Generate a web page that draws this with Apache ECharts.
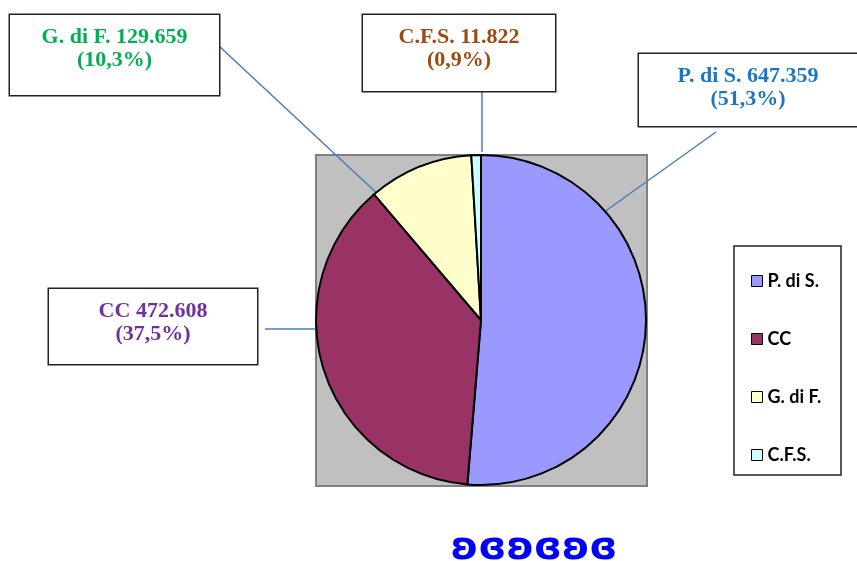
<!DOCTYPE html>
<html><head><meta charset="utf-8">
<script src="https://cdn.jsdelivr.net/npm/echarts@6/dist/echarts.min.js"></script>
<style>html,body{margin:0;padding:0;background:#fff}#c{width:857px;height:561px}</style>
</head><body><div id="c"></div>
<script>
const categories = ['P. di S.', 'CC', 'G. di F.', 'C.F.S.'];
const values = [647359, 472608, 129659, 11822];
const sliceColors = ['#9999FF', '#993366', '#FFFFCC', '#CCFFFF'];
const labelColors = ['#1A78C2', '#7030A0', '#00B050', '#9C4A0E'];
const ornament = 'ʚɞʚɞʚɞ';

// label box layout [left, top, right, bottom] and leader line points
const boxes = [[639,54,857,126],[49,289,257,364],[10,15,219,95],[363,15,555,91]];
const anchors = [[600,215],[321,329],[382,198],[482,152]];
const exits = [[716,132],[265,329],[219,46],[482,91]];

const total = values.reduce((a, b) => a + b, 0);
function itNum(v) { return String(v).replace(/\B(?=(\d{3})+(?!\d))/g, '.'); }
function itPct(v) { return (v / total * 100).toFixed(1).replace('.', ','); }

const chart = echarts.init(document.getElementById('c'), null, {renderer: 'canvas'});
chart.setOption({
  animation: false,
  backgroundColor: '#fff',
  graphic: [
    {type: 'rect', z: -10, shape: {x: 316, y: 155, width: 331, height: 331},
     style: {fill: '#C0C0C0', stroke: '#808080', lineWidth: 2}},
    {type: 'rect', z: -10, shape: {x: 734, y: 246, width: 107, height: 229},
     style: {fill: '#fff', stroke: '#222', lineWidth: 1.5}},
    {type: 'text', x: 534, y: 549, style: {text: ornament, fill: '#0000FF',
      font: 'bold 38px "DejaVu Sans"', textAlign: 'center', textVerticalAlign: 'middle'}}
  ],
  legend: {
    orient: 'vertical', left: 746, top: 267,
    itemWidth: 11, itemHeight: 11, itemGap: 40, icon: 'rect',
    itemStyle: {borderColor: '#000', borderWidth: 1},
    textStyle: {fontFamily: 'Lato', fontWeight: 'bold', fontSize: 18, color: '#000', lineHeight: 18},
    data: categories
  },
  series: [{
    type: 'pie',
    center: [481, 320],
    radius: 165,
    startAngle: 90,
    clockwise: true,
    avoidLabelOverlap: false,
    emphasis: {disabled: true},
    itemStyle: {borderColor: '#000', borderWidth: 2},
    label: {
      show: true, position: 'outside',
      fontFamily: 'Liberation Serif', fontWeight: 'bold', fontSize: 22, lineHeight: 23,
      backgroundColor: '#fff', borderColor: '#222', borderWidth: 1.5,
      align: 'center',
      formatter: p => p.name + ' ' + itNum(p.value) + '\n(' + itPct(p.value) + '%)'
    },
    labelLine: {show: true, showAbove: true, lineStyle: {color: '#4A7EBB', width: 1.5}},
    labelLayout: function (p) {
      const i = p.dataIndex, b = boxes[i];
      const a = anchors[i], e = exits[i];
      return {
        x: (b[0] + b[2]) / 2, y: b[1], align: 'center', verticalAlign: 'top',
        labelLinePoints: [a, [(a[0] + e[0]) / 2, (a[1] + e[1]) / 2], e]
      };
    },
    data: categories.map((n, i) => ({
      name: n, value: values[i],
      itemStyle: {color: sliceColors[i]},
      label: {
        color: labelColors[i],
        width: boxes[i][2] - boxes[i][0],
        height: boxes[i][3] - boxes[i][1] - 11,
        padding: [11, 0, 0, 0]
      }
    }))
  }]
});
</script>
</body></html>
